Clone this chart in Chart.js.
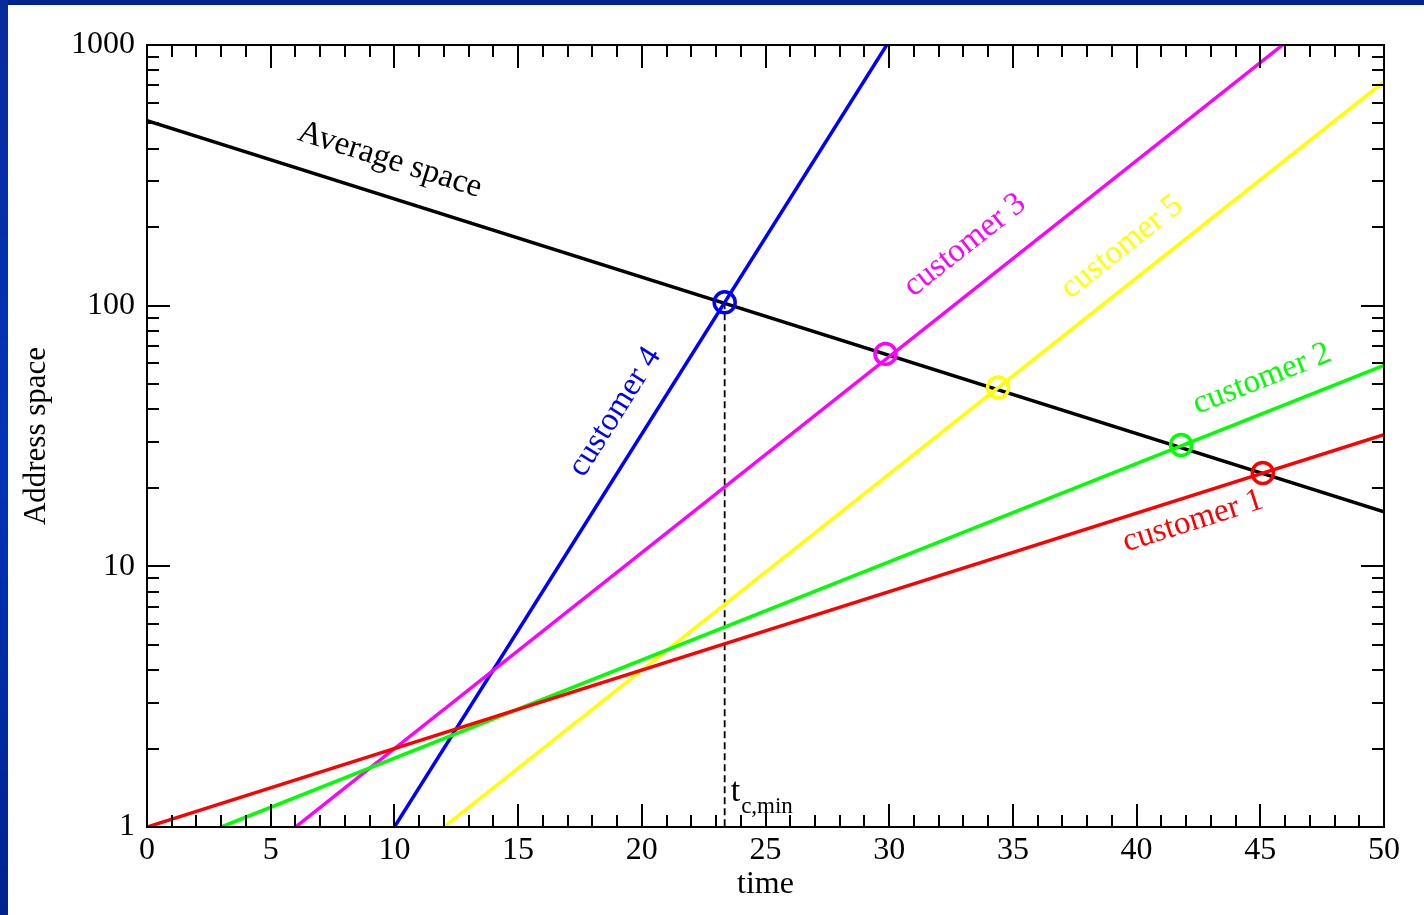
<!DOCTYPE html>
<html>
<head>
<meta charset="utf-8">
<script src="https://cdn.jsdelivr.net/npm/chart.js@4.4.1/dist/chart.umd.min.js"></script>
<style>
html, body { margin:0; padding:0; background:#ffffff; overflow:hidden; }
#topbar { position:absolute; left:0; top:0; width:1424px; height:5px; background:#00248f; }
#leftbar { position:absolute; left:0; top:0; width:8px; height:915px; background:linear-gradient(#0a2a9c, #0034b8 50%, #00238f); }
#wrap { position:absolute; left:0; top:0; width:1424px; height:915px; }
</style>
</head>
<body>
<div id="topbar"></div>
<div id="leftbar"></div>
<div id="wrap"><canvas id="c"></canvas></div>
<script>
// ---------------- data ----------------
const averageLabel = 'Average space';
const averageT = [0, 50];
const averageSpace = [512, 16.2];

const customerNames = ['customer 1', 'customer 2', 'customer 3', 'customer 4', 'customer 5'];
const customerT = [[0, 50], [3, 50], [6, 45.9], [10, 29.9], [12, 50]];
const customerSpace = [[1, 32], [1, 59], [1, 1000], [1, 1000], [1, 723]];

// crossing points (circles) of each customer with the average line
const crossT = [45.1, 41.8, 29.85, 23.35, 34.4];
const crossSpace = [22.8, 29.2, 65.3, 103, 48.5];

const tcMinT = 23.35;
const tcMinLabel = 't';
const tcMinSub = 'c,min';

const xTickLabels = [0, 5, 10, 15, 20, 25, 30, 35, 40, 45, 50];
const yTickLabels = [1, 10, 100, 1000];

// ---------------- styling ----------------
const customerColors = ['#ff0000', '#00ff00', '#ff00ff', '#0000ff', '#ffff00'];
const FONT = "'Liberation Serif', 'Times New Roman', serif";

// label anchor points (data coords) for the rotated line labels
const lineLabelAnchors = {
  avg: { x: 9.82, y: 362 },
  c: [ { x: 42.28, y: 14.9 }, { x: 45.07, y: 52.3 }, { x: 33.06, y: 170.7 }, { x: 18.92, y: 39.1 }, { x: 39.41, y: 167.8 } ]
};

// ---------------- datasets ----------------
const datasets = [];
datasets.push({
  label: 'crossings',
  data: crossT.map((t, i) => ({ x: t, y: crossSpace[i] })),
  showLine: false,
  pointStyle: 'circle',
  pointRadius: 10.5,
  pointBorderWidth: 3.5,
  pointBorderColor: customerColors,
  pointBackgroundColor: 'rgba(0,0,0,0)'
});
customerNames.forEach((name, i) => {
  datasets.push({
    label: name,
    data: customerT[i].map((t, j) => ({ x: t, y: customerSpace[i][j] })),
    showLine: true,
    borderColor: customerColors[i],
    borderWidth: 3.5,
    pointRadius: 0
  });
});
datasets.push({
  label: averageLabel,
  data: averageT.map((t, j) => ({ x: t, y: averageSpace[j] })),
  showLine: true,
  borderColor: '#000000',
  borderWidth: 3.5,
  pointRadius: 0
});
datasets.push({
  label: 'tcmin',
  data: [{ x: tcMinT, y: crossSpace[3] }, { x: tcMinT, y: 1 }],
  showLine: true,
  borderColor: '#000000',
  borderWidth: 1.8,
  borderDash: [7, 4],
  pointRadius: 0
});

// ---------------- plugin: frame, inward ticks, annotations ----------------
const framePlugin = {
  id: 'frame',
  afterDatasetsDraw(chart) {
    const { ctx, chartArea: a, scales } = chart;
    const xs = scales.x, ys = scales.y;
    ctx.save();
    ctx.strokeStyle = '#000';
    ctx.lineWidth = 2;
    ctx.lineCap = 'butt';
    // frame
    ctx.strokeRect(a.left, a.top, a.right - a.left, a.bottom - a.top);
    const MAJ = 23, MIN = 12;
    // x ticks
    for (let v = 0; v <= 50; v++) {
      const px = Math.round(xs.getPixelForValue(v));
      const len = (v % 5 === 0) ? MAJ : MIN;
      ctx.beginPath();
      ctx.moveTo(px, a.bottom); ctx.lineTo(px, a.bottom - len);
      ctx.moveTo(px, a.top); ctx.lineTo(px, a.top + len);
      ctx.stroke();
    }
    // y ticks (log)
    for (let dec = 1; dec <= 1000; dec *= 10) {
      for (let m = 1; m <= 9; m++) {
        const v = dec * m;
        if (v > 1000) break;
        const py = Math.round(ys.getPixelForValue(v));
        const len = (m === 1) ? MAJ : MIN;
        ctx.beginPath();
        ctx.moveTo(a.left, py); ctx.lineTo(a.left + len, py);
        ctx.moveTo(a.right, py); ctx.lineTo(a.right - len, py);
        ctx.stroke();
      }
    }
    // rotated line labels
    const drawLabel = (text, color, anchor, pts) => {
      const p0x = xs.getPixelForValue(pts[0].x), p0y = ys.getPixelForValue(pts[0].y);
      const p1x = xs.getPixelForValue(pts[1].x), p1y = ys.getPixelForValue(pts[1].y);
      const ang = Math.atan2(p1y - p0y, p1x - p0x);
      ctx.save();
      ctx.translate(xs.getPixelForValue(anchor.x), ys.getPixelForValue(anchor.y));
      ctx.rotate(ang);
      ctx.fillStyle = color;
      ctx.font = '33px ' + FONT;
      ctx.textAlign = 'center';
      ctx.textBaseline = 'middle';
      ctx.fillText(text, 0, 0);
      ctx.restore();
    };
    drawLabel(averageLabel, '#000000', lineLabelAnchors.avg, averageT.map((t, j) => ({ x: t, y: averageSpace[j] })));
    customerNames.forEach((name, i) => {
      drawLabel(name, customerColors[i], lineLabelAnchors.c[i], customerT[i].map((t, j) => ({ x: t, y: customerSpace[i][j] })));
    });
    // t_c,min label
    const tx = xs.getPixelForValue(tcMinT);
    ctx.fillStyle = '#000';
    ctx.textAlign = 'left';
    ctx.textBaseline = 'alphabetic';
    ctx.font = '34px ' + FONT;
    ctx.fillText(tcMinLabel, tx + 6, a.bottom - 26);
    const tw = ctx.measureText(tcMinLabel).width;
    ctx.font = '23px ' + FONT;
    ctx.fillText(tcMinSub, tx + 6 + tw + 1, a.bottom - 14);
    ctx.restore();
  }
};

// ---------------- chart ----------------
new Chart(document.getElementById('c'), {
  type: 'scatter',
  data: { datasets },
  options: {
    responsive: true,
    maintainAspectRatio: false,
    animation: false,
    events: [],
    layout: { padding: { left: 0, top: 45, right: 40, bottom: 0 } },
    plugins: { legend: { display: false }, tooltip: { enabled: false } },
    scales: {
      x: {
        type: 'linear', position: 'bottom', min: 0, max: 50,
        afterBuildTicks: s => { s.ticks = xTickLabels.map(v => ({ value: v })); },
        afterFit: s => { s.height = 88; },
        grid: { display: false, drawTicks: false },
        border: { display: false },
        ticks: { font: { family: FONT, size: 32 }, color: '#000', padding: 4, maxRotation: 0, autoSkip: false, callback: v => String(v) },
        title: { display: true, text: 'time', color: '#000', font: { family: FONT, size: 32 }, padding: { top: 0, bottom: 11 } }
      },
      y: {
        type: 'logarithmic', position: 'left', min: 1, max: 1000,
        afterBuildTicks: s => { s.ticks = yTickLabels.map(v => ({ value: v })); },
        afterFit: s => { s.width = 147; },
        grid: { display: false, drawTicks: false },
        border: { display: false },
        ticks: { font: { family: FONT, size: 32 }, color: '#000', padding: 12, autoSkip: false, callback: v => String(v) },
        title: { display: true, text: 'Address space', color: '#000', font: { family: FONT, size: 31 }, padding: { top: 18, bottom: 0 } }
      }
    }
  },
  plugins: [framePlugin]
});
</script>
</body>
</html>
